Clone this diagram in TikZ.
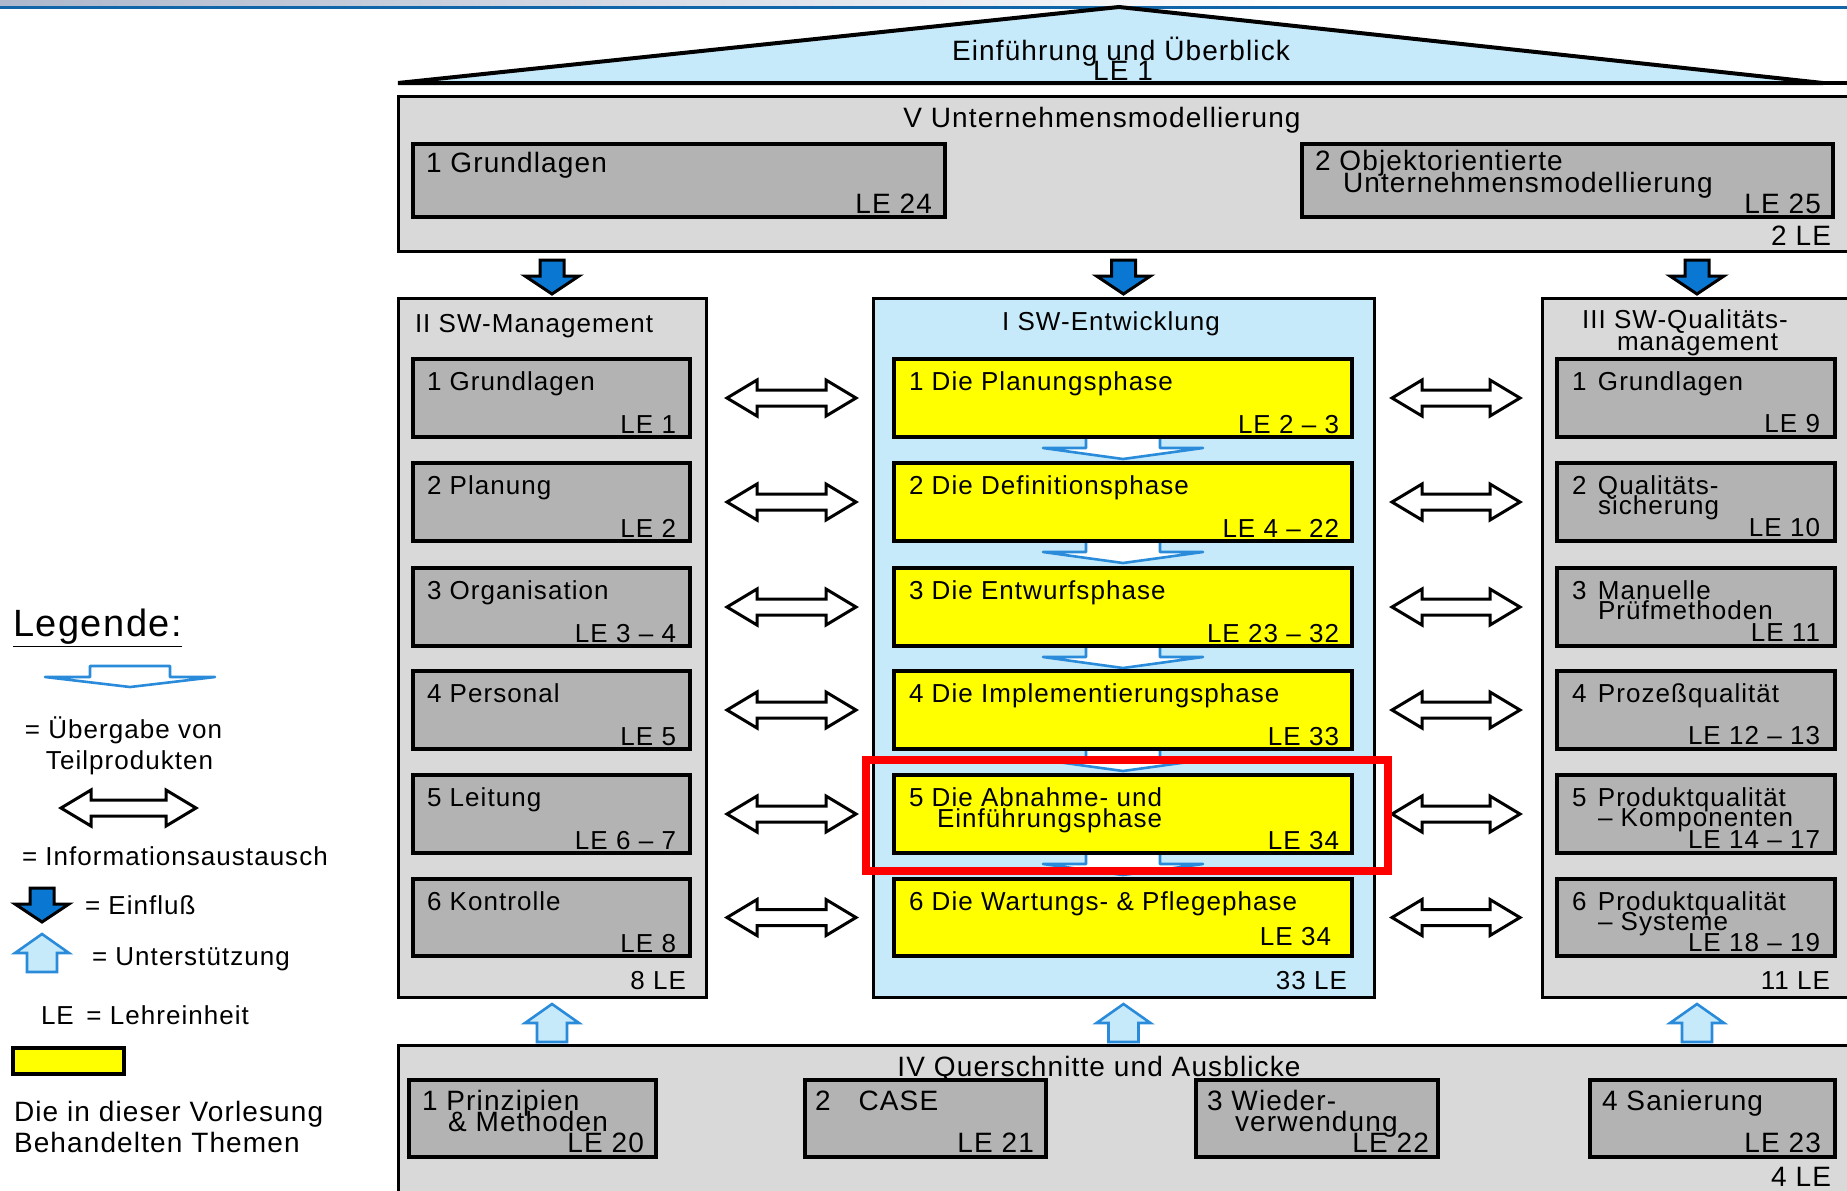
\documentclass[tikz,border=0pt]{standalone}
\usepackage{fontspec}
\setmainfont{Liberation Sans}[LetterSpace=4]
\usetikzlibrary{calc}
\definecolor{boxgray}{HTML}{D9D9D9}
\definecolor{innergray}{HTML}{B3B3B3}
\definecolor{lightblue}{HTML}{C6EAFA}
\definecolor{hlyellow}{HTML}{FFFF00}
\definecolor{transblue}{HTML}{2A8BDA}
\definecolor{einflblue}{HTML}{0A78D2}
\definecolor{topline}{HTML}{1166AA}
\definecolor{stripblue}{HTML}{AEB8CC}
\newcommand\pbox[6]{\node[#2, minimum width={(#5-#3)*0.5pt}, minimum height={(#6-#4)*0.5pt}] (#1) at ({(#3+#5)/2},{(#4+#6)/2}) {};}
\newcommand\txtW[4][]{\node[txt,anchor=base west,#1] (#2) at (#3) {#4};}
\newcommand\txtE[4][]{\node[txt,anchor=base east,#1] (#2) at (#3) {#4};}
\newcommand\txtC[4][]{\node[txt,anchor=base,#1] (#2) at (#3) {#4};}
\newcommand\dblarrow[2]{\draw[dblarr] #1 -- ++(30,-18) -- ++(0,10) -- ++(#2,0) -- ++(0,-10) -- ++(30,18) -- ++(-30,18) -- ++(0,-10) -- ++(-#2,0) -- ++(0,10) -- cycle;}
\newcommand\transferarrow[1]{\draw[transfer] #1 -- ++(0,11) -- ++(-43,0) -- ++(80,11) -- ++(80,-11) -- ++(-43,0) -- ++(0,-11) -- cycle;}
\newcommand\einfluss[1]{\draw[einfl] #1 -- ++(-27,-18) -- ++(15,0) -- ++(0,-16) -- ++(24,0) -- ++(0,16) -- ++(15,0) -- cycle;}
\newcommand\supportarrow[1]{\draw[supp] #1 -- ++(27,19) -- ++(-12,0) -- ++(0,19) -- ++(-30,0) -- ++(0,-19) -- ++(-12,0) -- cycle;}
\tikzset{
 outerbox/.style={rectangle, draw=black, line width=1.5pt, fill=boxgray, inner sep=0pt, outer sep=0pt},
 greybox/.style={rectangle, draw=black, line width=2pt, fill=innergray, inner sep=0pt, outer sep=0pt},
 yellowbox/.style={rectangle, draw=black, line width=2pt, fill=hlyellow, inner sep=0pt, outer sep=0pt},
 bluecol/.style={outerbox, fill=lightblue},
 redframe/.style={rectangle, draw=red, line width=4pt, inner sep=0pt, outer sep=0pt},
 txt/.style={inner sep=0pt, outer sep=0pt, font=\fontsize{13}{15}\selectfont},
 bigtxt/.style={font=\fontsize{14}{16}\selectfont},
 legtxt/.style={font=\fontsize{19}{21}\selectfont},
 dblarr/.style={draw=black, fill=white, line width=1.5pt, line join=miter},
 transfer/.style={draw=transblue, fill=white, line width=1.3pt, line join=round},
 einfl/.style={draw=black, fill=einflblue, line width=1.5pt, line join=miter},
 supp/.style={draw=transblue, fill=lightblue, line width=1.3pt, line join=miter},
}
\begin{document}
\begin{tikzpicture}[x=0.5pt,y=-0.5pt]
\useasboundingbox (0,0) rectangle (1847,1190);
\clip (0,0) rectangle (1847,1190);
% top strip
\shade[left color=stripblue, right color=white] (0,0) rectangle (1300,6);
\draw[topline, line width=1.5pt] (0,7) -- (1847,7);
% pediment
\filldraw[fill=lightblue, draw=black, line width=2pt, line join=miter] (398,83) -- (1119,7) -- (1823,83) -- cycle;
\draw[line width=2pt] (398,83) -- (1850,83);
\txtC[bigtxt]{ped1}{1121,60}{Einführung und Überblick}
\txtC[bigtxt]{ped2}{1123,80}{LE 1}
% V box
\pbox{boxV}{outerbox}{398}{96}{1852}{251}
\txtC[bigtxt]{vtitle}{1102,127}{V Unternehmensmodellierung}
\pbox{v1}{greybox}{413}{144}{945}{217}
\txtW[bigtxt]{v1t}{426,172}{1 Grundlagen}
\txtE[bigtxt]{v1le}{932,213}{LE 24}
\pbox{v2}{greybox}{1302}{144}{1833}{217}
\txtW[bigtxt]{v2t}{1315,170}{2 Objektorientierte}
\txtW[bigtxt]{v2u}{1343,192}{Unternehmensmodellierung}
\txtE[bigtxt]{v2le}{1821,213}{LE 25}
\txtE[bigtxt]{vle}{1831,245}{2 LE}
% columns
\pbox{colII}{outerbox}{398}{298}{706}{997}
\pbox{colI}{bluecol}{873}{298}{1374}{997}
\pbox{colIII}{outerbox}{1542}{298}{1852}{997}
\txtW{c2t}{415,332}{II SW-Management}
\txtC{c1t}{1111,330}{I SW-Entwicklung}
\txtW{c3t}{1582,328}{III SW-Qualitäts-}
\txtW{c3u}{1617,350}{management}
\txtE{c2le}{686,989}{8 LE}
\txtE{c1le}{1347,989}{33 LE}
\txtE{c3le}{1830,989}{11 LE}
% influence arrows
\einfluss{($(colII.north)+(0,-4)$)}
\einfluss{($(colI.north)+(0,-4)$)}
\einfluss{($(colIII.north)+(0,-4)$)}
% II rows
\foreach \n/\ya/\yb/\ti/\lab in {1/359/437/{1 Grundlagen}/{LE 1},2/463/541/{2 Planung}/{LE 2},3/568/646/{3 Organisation}/{LE 3 – 4},4/671/749/{4 Personal}/{LE 5},5/775/853/{5 Leitung}/{LE 6 – 7},6/879/956/{6 Kontrolle}/{LE 8}}{
 \pbox{m\n}{greybox}{413}{\ya}{690}{\yb}
 \node[txt,anchor=base west] (m\n-t) at ($(m\n.north west)+(14,31)$) {\ti};
 \node[txt,anchor=base east] (m\n-le) at ($(m\n.south east)+(-14,-4)$) {\lab};
}
% I rows: transfer arrows first
\foreach \yb in {437,541,646,749,853}{
 \transferarrow{(1086,\yb)}
}
\foreach \n/\ya/\yb/\ti/\lab in {1/359/437/{1 Die Planungsphase}/{LE 2 – 3},2/463/541/{2 Die Definitionsphase}/{LE 4 – 22},3/568/646/{3 Die Entwurfsphase}/{LE 23 – 32},4/671/749/{4 Die Implementierungsphase}/{LE 33},5/775/853/{5 Die Abnahme- und}/{LE 34}}{
 \pbox{d\n}{yellowbox}{894}{\ya}{1352}{\yb}
 \node[txt,anchor=base west] (d\n-t) at ($(d\n.north west)+(15,31)$) {\ti};
 \node[txt,anchor=base east] (d\n-le) at ($(d\n.south east)+(-13,-4)$) {\lab};
}
\pbox{d6}{yellowbox}{894}{879}{1352}{956}
\node[txt,anchor=base west] (d6-t) at ($(d6.north west)+(15,31)$) {6 Die Wartungs- \& Pflegephase};
\node[txt,anchor=base east] (d6-le) at ($(d6.south east)+(-21,-11)$) {LE 34};
\node[txt,anchor=base west] (d5-u) at ($(d5.north west)+(43,52)$) {Einführungsphase};
% III rows
\foreach \n/\ya/\yb/\nm/\ti/\tii/\lab in {1/359/437/1/{Grundlagen}/{}/{LE 9},2/463/541/2/{Qualitäts-}/{sicherung}/{LE 10},3/568/646/3/{Manuelle}/{Prüfmethoden}/{LE 11},4/671/749/4/{Prozeßqualität}/{}/{LE 12 – 13},5/775/853/5/{Produktqualität}/{– Komponenten}/{LE 14 – 17},6/879/956/6/{Produktqualität}/{– Systeme}/{LE 18 – 19}}{
 \pbox{q\n}{greybox}{1557}{\ya}{1835}{\yb}
 \node[txt,anchor=base west] (q\n-t) at ($(q\n.north west)+(15,31)$) {\makebox[13pt][l]{\nm}\ti};
 \node[txt,anchor=base west] (q\n-u) at ($(q\n.north west)+(41,51)$) {\tii};
 \node[txt,anchor=base east] (q\n-le) at ($(q\n.south east)+(-15,-5)$) {\lab};
}
% information exchange arrows
\foreach \n in {1,...,6}{
 \dblarrow{($(m\n.east)+(37,0)$)}{69}
 \dblarrow{($(d\n.east)+(40,0)$)}{68}
}
% IV box
\pbox{boxIV}{outerbox}{398}{1045}{1852}{1200}
\supportarrow{($(colII.south |- boxIV.north)+(0,-41)$)}
\supportarrow{($(colI.south |- boxIV.north)+(0,-41)$)}
\supportarrow{($(colIII.south |- boxIV.north)+(0,-41)$)}
\pbox{b1}{greybox}{409}{1080}{656}{1157}
\pbox{b2}{greybox}{805}{1080}{1046}{1157}
\pbox{b3}{greybox}{1196}{1080}{1438}{1157}
\pbox{b4}{greybox}{1590}{1080}{1835}{1157}
\txtC[bigtxt]{ivtitle}{1099,1076}{IV Querschnitte und Ausblicke}
\txtW[bigtxt]{b1t}{422,1110}{1 Prinzipien}
\txtW[bigtxt]{b1u}{448,1131}{\& Methoden}
\txtE[bigtxt]{b1le}{644,1152}{LE 20}
\txtW[bigtxt]{b2t}{815,1110}{2\hspace{14pt}CASE}
\txtE[bigtxt]{b2le}{1034,1152}{LE 21}
\txtW[bigtxt]{b3t}{1207,1110}{3 Wieder-}
\txtW[bigtxt]{b3u}{1235,1131}{verwendung}
\txtE[bigtxt]{b3le}{1429,1152}{LE 22}
\txtW[bigtxt]{b4t}{1602,1110}{4 Sanierung}
\txtE[bigtxt]{b4le}{1821,1152}{LE 23}
\txtE[bigtxt]{ivle}{1831,1186}{4 LE}
% legend
\txtW[legtxt]{leg}{13,636}{\underline{Legende:}}
\draw[transfer] (90,666) -- ++(0,11) -- ++(-45,0) -- ++(85,10) -- ++(85,-10) -- ++(-45,0) -- ++(0,-11) -- cycle;
\txtW{leg1}{25,738}{= Übergabe von}
\txtW{leg1b}{46,769}{Teilprodukten}
\dblarrow{(61,808)}{75}
\txtW{leg2}{22,865}{= Informationsaustausch}
\einfluss{(42,922)}
\txtW{leg3}{85,914}{= Einfluß}
\supportarrow{(42,934)}
\txtW{leg4}{92,965}{= Unterstützung}
\txtW{leg5}{41,1024}{LE\, = Lehreinheit}
\pbox{legy}{yellowbox}{13}{1048}{124}{1074}
\txtW[font=\fontsize{14}{16}\selectfont]{leg6}{14,1121}{Die in dieser Vorlesung}
\txtW[font=\fontsize{14}{16}\selectfont]{leg7}{14,1152}{Behandelten Themen}
% highlight
\pbox{hl}{redframe}{866}{760}{1388}{871}
\end{tikzpicture}
\end{document}
